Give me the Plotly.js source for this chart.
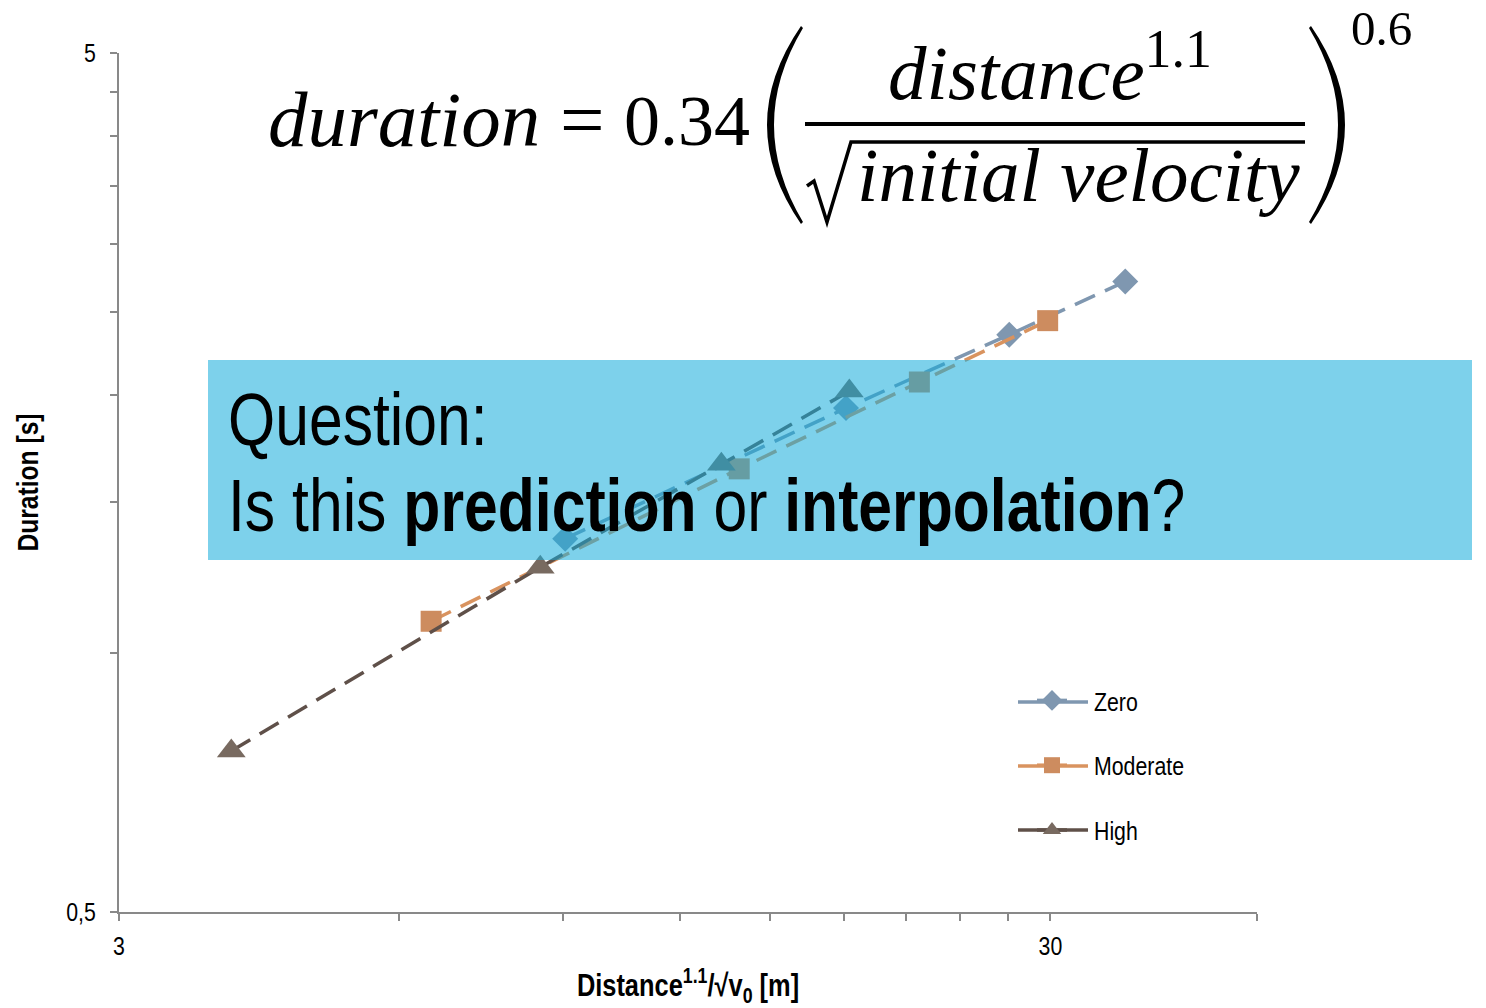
<!DOCTYPE html>
<html>
<head>
<meta charset="utf-8">
<script src="https://cdn.plot.ly/plotly-3.0.1.min.js"></script>
<style>
  html, body { margin: 0; padding: 0; background: #ffffff; }
  #chart { width: 1486px; height: 1008px; }
</style>
</head>
<body>
<div id="chart"></div>
<script>
// Duration vs. scaled distance, three initial-velocity classes (log-log)
const seriesNames = ['Zero', 'Moderate', 'High'];

const zeroX = [9.04, 18.1, 27.1, 36.1];
const zeroY = [1.36, 1.93, 2.35, 2.71];

const moderateX = [6.49, 13.9, 21.7, 29.8];
const moderateY = [1.09, 1.64, 2.07, 2.44];

const highX = [3.96, 8.5, 13.3, 18.25];
const highY = [0.77, 1.26, 1.66, 2.02];

const xTickVals = [3, 6, 9, 12, 15, 18, 21, 24, 27, 30, 50];
const xTickText = ['3', '', '', '', '', '', '', '', '', '30', ''];
const yTickVals = [0.5, 1, 1.5, 2, 2.5, 3, 3.5, 4, 4.5, 5];
const yTickText = ['0,5', '', '', '', '', '', '', '', '', '5'];

// sans texts are condensed horizontally after drawing (narrow face)
const SANS = '"Liberation Sans", Arial, sans-serif';
const SERIF = '"Liberation Serif", "DejaVu Serif", serif';
const NARROW_FACTOR = 0.82;
const LEGEND_TEXT_SHIFT = 22;

const styles = {
  Zero:     { marker: '#7f97b0', line: '#7f97b0', symbol: 'diamond',     size: 20 },
  Moderate: { marker: '#cd8c5f', line: '#d9935f', symbol: 'square',      size: 21 },
  High:     { marker: '#786a60', line: '#5f5049', symbol: 'triangle-up', size: 25 }
};

const xs = { Zero: zeroX, Moderate: moderateX, High: highX };
const ys = { Zero: zeroY, Moderate: moderateY, High: highY };

const traces = [];
seriesNames.forEach(name => {
  const c = styles[name];
  traces.push({
    type: 'scatter', mode: 'lines+markers', name: name,
    x: xs[name], y: ys[name], showlegend: false, cliponaxis: false,
    line: { color: c.line, width: 3.5, dash: '22px,11px' },
    marker: { symbol: c.symbol, size: c.size, color: c.marker, line: { width: 0 } }
  });
});
// legend keys: solid line with the series marker
seriesNames.forEach(name => {
  const c = styles[name];
  traces.push({
    type: 'scatter', mode: 'lines+markers', name: name,
    x: [null], y: [null], showlegend: true, legendgroup: name,
    line: { color: c.line, width: 3.5 },
    marker: { symbol: c.symbol, size: 16, color: c.marker, line: { width: 0 } }
  });
});

// plot-area geometry in pixels, used to place the formula pieces
const L = 119, R = 1257, T = 53, B = 912;
const px = v => (v - L) / (R - L);
const py = v => (B - v) / (B - T);
function P(x, y) { return px(x).toFixed(5) + ',' + py(y).toFixed(5); }

const shapes = [
  // highlighted question band
  { type: 'rect', xref: 'paper', yref: 'paper', layer: 'above',
    x0: px(208), x1: px(1472), y0: py(560), y1: py(360),
    fillcolor: 'rgba(18,171,218,0.55)', line: { width: 0 } },
  // fraction bar
  { type: 'line', xref: 'paper', yref: 'paper', layer: 'above',
    x0: px(805), x1: px(1305), y0: py(124), y1: py(124),
    line: { color: '#000', width: 4 } },
  // radical sign with overline
  { type: 'path', xref: 'paper', yref: 'paper', layer: 'above',
    path: 'M ' + P(807, 186) + ' L ' + P(814, 181) + ' L ' + P(827, 222) + ' L ' + P(851, 142) + ' L ' + P(1305, 142),
    line: { color: '#000', width: 3.5 } },
  // left parenthesis
  { type: 'path', xref: 'paper', yref: 'paper', layer: 'above',
    path: 'M ' + P(801, 26) + ' Q ' + P(733, 125) + ' ' + P(801, 224) +
          ' L ' + P(803, 222) + ' Q ' + P(745, 125) + ' ' + P(803, 28) + ' Z',
    fillcolor: '#000', line: { width: 0 } },
  // right parenthesis
  { type: 'path', xref: 'paper', yref: 'paper', layer: 'above',
    path: 'M ' + P(1311, 26) + ' Q ' + P(1379, 125) + ' ' + P(1311, 224) +
          ' L ' + P(1309, 222) + ' Q ' + P(1367, 125) + ' ' + P(1309, 28) + ' Z',
    fillcolor: '#000', line: { width: 0 } }
];

// long legend key lines behind the legend symbols
const legendRows = [702, 766, 830];
seriesNames.forEach((name, i) => {
  shapes.push({ type: 'line', xref: 'paper', yref: 'paper', layer: 'above',
    x0: px(1018), x1: px(1088), y0: py(legendRows[i]), y1: py(legendRows[i]),
    line: { color: styles[name].line, width: 3.5 } });
});

function note(x, y, text, size, family, xanchor, extra) {
  return Object.assign({ xref: 'paper', yref: 'paper', x: px(x), y: py(y),
    xanchor: xanchor, yanchor: 'middle', align: xanchor === 'center' ? 'center' : xanchor,
    showarrow: false, borderpad: 0, text: text,
    font: { family: family, size: size, color: '#000' } }, extra || {});
}

const annotations = [
  note(267, 119, '<i>duration</i>', 79, SERIF, 'left'),
  note(582, 119, '=', 79, SERIF, 'center'),
  note(751, 121, '0.34', 72, SERIF, 'right'),
  note(1050, 68, '<i>distance</i><sup>1.1</sup>', 77, SERIF, 'center'),
  note(856, 175, '<i>initial velocity</i>', 77, SERIF, 'left'),
  note(1350, 0, '0.6', 49, SERIF, 'left', { yanchor: 'top' }),
  note(227, 419, 'Question:', 74, SANS, 'left'),
  note(227, 505, 'Is this <b>prediction</b> or <b>interpolation</b>?', 74, SANS, 'left')
];

const axisCommon = {
  type: 'log', showgrid: false, zeroline: false, showline: true,
  linecolor: '#898989', linewidth: 2, ticks: 'outside', ticklen: 7,
  tickcolor: '#898989', tickwidth: 2,
  tickfont: { family: SANS, size: 26, color: '#000' }, tickmode: 'array'
};

const layout = {
  width: 1486, height: 1008,
  margin: { l: L, r: 1486 - R, t: T, b: 1008 - B },
  paper_bgcolor: '#ffffff', plot_bgcolor: '#ffffff',
  showlegend: true,
  legend: {
    x: px(1032), y: py(677), xanchor: 'left', yanchor: 'top',
    bgcolor: 'rgba(0,0,0,0)', traceorder: 'grouped', tracegroupgap: 28,
    itemwidth: 30,
    font: { family: SANS, size: 26, color: '#000' }
  },
  xaxis: Object.assign({}, axisCommon, {
    range: [Math.log10(3), Math.log10(50)],
    tickvals: xTickVals, ticktext: xTickText, ticklabelstandoff: 3,
    title: { text: '<b>Distance<sup>1.1</sup>/√v<sub>0</sub> [m]</b>', standoff: 15,
             font: { family: SANS, size: 31, color: '#000' } }
  }),
  yaxis: Object.assign({}, axisCommon, {
    range: [Math.log10(0.5), Math.log10(5)],
    tickvals: yTickVals, ticktext: yTickText, ticklabelstandoff: 9,
    title: { text: '<b>Duration [s]</b>', standoff: 12,
             font: { family: SANS, size: 30, color: '#000' } }
  }),
  shapes: shapes,
  annotations: annotations
};

// condense every sans text about its anchor point; legend labels sit
// further right to leave room for the long key lines
function condense(gd, k) {
  gd.querySelectorAll('text').forEach(t => {
    const fam = t.style.fontFamily || '';
    if (fam.indexOf('Liberation Sans') < 0) return;
    const bb = t.getBBox();
    if (!bb.width) return;
    const anchor = t.getAttribute('text-anchor') || t.style.textAnchor || 'start';
    const pivot = anchor === 'end' ? bb.x + bb.width
                : anchor === 'middle' ? bb.x + bb.width / 2 : bb.x;
    const shift = t.classList.contains('legendtext') ? LEGEND_TEXT_SHIFT : 0;
    const prev = t.getAttribute('transform') || '';
    t.setAttribute('transform',
      (prev + ' translate(' + (pivot * (1 - k) + shift).toFixed(2) + ',0) scale(' + k + ',1)').trim());
  });
}

const gd = document.getElementById('chart');
Plotly.newPlot(gd, traces, layout, { displayModeBar: false, staticPlot: true })
  .then(() => condense(gd, NARROW_FACTOR));
</script>
</body>
</html>
